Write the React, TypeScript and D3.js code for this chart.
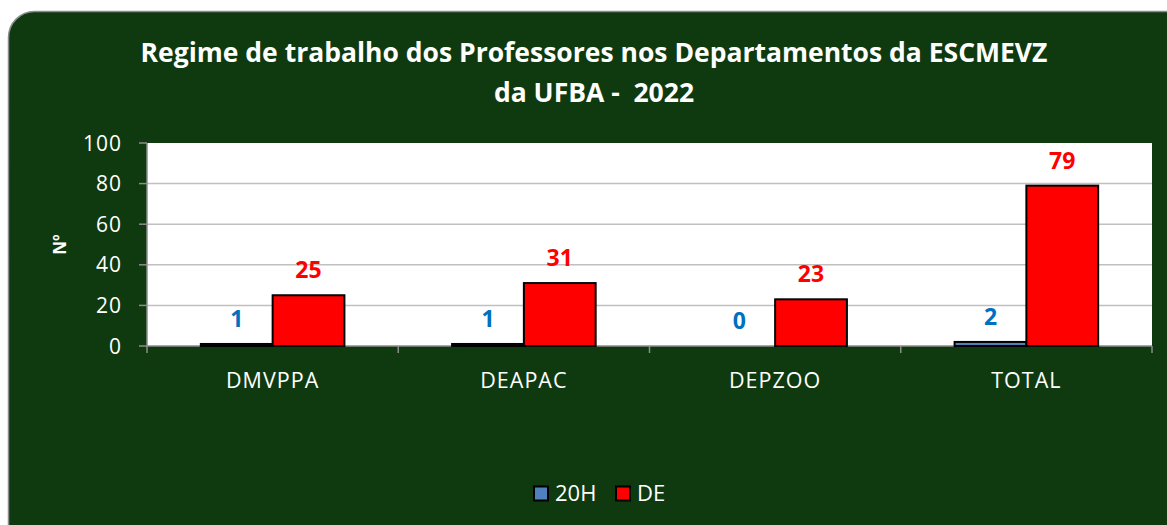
import React, { useEffect, useRef } from 'react';
import * as d3 from 'd3';

// dados do gráfico
const categories = ['DMVPPA', 'DEAPAC', 'DEPZOO', 'TOTAL'];
const series = ['20H', 'DE'];
const values20H = [1, 1, 0, 2];
const valuesDE = [25, 31, 23, 79];
const yTicks = [0, 20, 40, 60, 80, 100];
const titleLines = ['Regime de trabalho dos Professores nos Departamentos da ESCMEVZ', 'da UFBA -  2022'];

const App = () => {
  const ref = useRef<SVGSVGElement>(null);

  useEffect(() => {
    document.body.style.margin = '0';
    const width = 1167;
    const height = 525;
    const font = "'Open Sans', 'DejaVu Sans', sans-serif";
    const svg = d3.select(ref.current);
    svg.selectAll('*').remove();

    // fundo
    svg.append('rect').attr('width', width).attr('height', height).attr('fill', '#ffffff');
    svg
      .append('rect')
      .attr('x', 8.5)
      .attr('y', 11.5)
      .attr('width', width + 40)
      .attr('height', height + 40)
      .attr('rx', 26)
      .attr('fill', '#0f3a0f')
      .attr('stroke', '#8c8c8c')
      .attr('stroke-width', 1.5);

    // título
    svg
      .append('text')
      .attr('font-family', font)
      .attr('font-weight', 700)
      .attr('font-size', 26.5)
      .attr('fill', '#ffffff')
      .attr('text-anchor', 'middle')
      .selectAll('tspan')
      .data(titleLines)
      .enter()
      .append('tspan')
      .attr('x', 594)
      .attr('y', (d, i) => 62 + i * 40)
      .attr('xml:space', 'preserve')
      .text(d => d);

    const left = 147;
    const right = 1152;
    const top = 143;
    const bottom = 346;

    const x0 = d3.scaleBand().domain(categories).range([left, right]).paddingInner(0).paddingOuter(0);
    // gap width 150%
    const x1 = d3
      .scaleBand()
      .domain(series)
      .range([0, x0.bandwidth()])
      .paddingInner(0)
      .paddingOuter(0.75);
    const y = d3.scaleLinear().domain([0, 100]).range([bottom, top]);

    // área do gráfico
    svg
      .append('rect')
      .attr('x', left)
      .attr('y', top)
      .attr('width', right - left)
      .attr('height', bottom - top)
      .attr('fill', '#ffffff');

    // linhas de grade
    svg
      .append('g')
      .selectAll('line')
      .data(yTicks.filter(t => t > 0 && t < 100))
      .enter()
      .append('line')
      .attr('x1', left)
      .attr('x2', right)
      .attr('y1', d => y(d))
      .attr('y2', d => y(d))
      .attr('stroke', '#c0c0c0')
      .attr('stroke-width', 1.5);

    // eixo Y
    const yAxis = svg.append('g');
    yAxis
      .append('line')
      .attr('x1', left)
      .attr('x2', left)
      .attr('y1', top)
      .attr('y2', bottom)
      .attr('stroke', '#8c8c8c')
      .attr('stroke-width', 1.5);
    yAxis
      .selectAll('line.tick')
      .data(yTicks)
      .enter()
      .append('line')
      .attr('class', 'tick')
      .attr('x1', left - 8)
      .attr('x2', left)
      .attr('y1', d => y(d))
      .attr('y2', d => y(d))
      .attr('stroke', '#8c8c8c')
      .attr('stroke-width', 1.5);
    yAxis
      .selectAll('text')
      .data(yTicks)
      .enter()
      .append('text')
      .attr('x', left - 25)
      .attr('y', d => y(d))
      .attr('dy', '0.36em')
      .attr('text-anchor', 'end')
      .attr('font-family', font)
      .attr('font-size', 21)
      .attr('letter-spacing', 1)
      .attr('fill', '#ffffff')
      .text(d => d);

    svg
      .append('text')
      .attr('transform', `translate(66,${(top + bottom) / 2}) rotate(-90)`)
      .attr('text-anchor', 'middle')
      .attr('font-family', font)
      .attr('font-weight', 700)
      .attr('font-size', 17)
      .attr('fill', '#ffffff')
      .text('Nº');

    // eixo X
    const xAxis = svg.append('g');
    xAxis
      .append('line')
      .attr('x1', left)
      .attr('x2', right)
      .attr('y1', bottom)
      .attr('y2', bottom)
      .attr('stroke', '#8c8c8c')
      .attr('stroke-width', 1.5);
    xAxis
      .selectAll('line.tick')
      .data([...categories.map(c => x0(c) as number), right])
      .enter()
      .append('line')
      .attr('class', 'tick')
      .attr('x1', d => d)
      .attr('x2', d => d)
      .attr('y1', bottom)
      .attr('y2', bottom + 7)
      .attr('stroke', '#8c8c8c')
      .attr('stroke-width', 1.5);
    xAxis
      .selectAll('text')
      .data(categories)
      .enter()
      .append('text')
      .attr('x', d => (x0(d) as number) + x0.bandwidth() / 2)
      .attr('y', 388)
      .attr('text-anchor', 'middle')
      .attr('font-family', font)
      .attr('font-size', 21.5)
      .attr('letter-spacing', 1)
      .attr('fill', '#ffffff')
      .text(d => d);

    // barras
    const rows = categories.map((c, i) => ({ cat: c, vals: [values20H[i], valuesDE[i]] }));
    const colors = ['#4f81bd', '#ff0000'];
    const labelColors = ['#0070c0', '#ff0000'];

    const groups = svg
      .append('g')
      .selectAll('g')
      .data(rows)
      .enter()
      .append('g')
      .attr('transform', d => `translate(${x0(d.cat)},0)`);

    groups
      .selectAll('rect')
      .data(d => d.vals.map((v, i) => ({ key: series[i], v, i })).filter(d => d.v > 0))
      .enter()
      .append('rect')
      .attr('x', d => x1(d.key) as number)
      .attr('y', d => y(d.v))
      .attr('width', x1.bandwidth())
      .attr('height', d => y(0) - y(d.v))
      .attr('fill', d => colors[d.i])
      .attr('stroke', '#000000')
      .attr('stroke-width', 2);

    groups
      .selectAll('text')
      .data(d => d.vals.map((v, i) => ({ key: series[i], v, i })))
      .enter()
      .append('text')
      .attr('x', d => (x1(d.key) as number) + x1.bandwidth() / 2)
      .attr('y', d => y(d.v) - 17)
      .attr('text-anchor', 'middle')
      .attr('font-family', font)
      .attr('font-weight', 700)
      .attr('font-size', 23)
      .attr('fill', d => labelColors[d.i])
      .text(d => d.v);

    // legenda
    const legend = svg
      .append('g')
      .selectAll('g')
      .data(series)
      .enter()
      .append('g')
      .attr('transform', (d, i) => `translate(${i === 0 ? 534 : 616},486.5)`);
    legend
      .append('rect')
      .attr('width', 14)
      .attr('height', 14)
      .attr('fill', (d, i) => colors[i])
      .attr('stroke', '#000000')
      .attr('stroke-width', 2);
    legend
      .append('text')
      .attr('x', 21)
      .attr('y', 14.5)
      .attr('font-family', font)
      .attr('font-size', 22)
      .attr('fill', '#ffffff')
      .text(d => d);
  }, []);

  return <svg ref={ref} width={1167} height={525} style={{ display: 'block' }} />;
};

export default App;
